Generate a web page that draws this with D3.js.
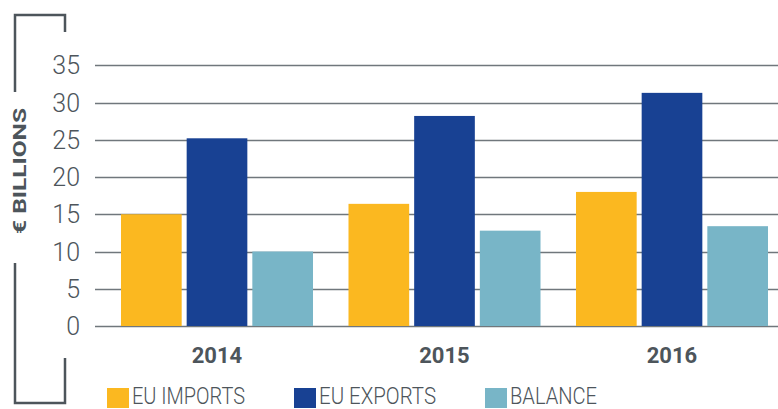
<!DOCTYPE html>
<html>
<head>
<meta charset="utf-8">
<script src="https://cdn.jsdelivr.net/npm/d3@7"></script>
<style>
  body { margin: 0; background: #fff; }
  svg { display: block; }
</style>
</head>
<body>
<svg width="778" height="409"></svg>
<script>
const years = ['2014', '2015', '2016'];
const series = ['EU IMPORTS', 'EU EXPORTS', 'BALANCE'];
const imports = [15.0, 16.4, 18.0];
const exports = [25.2, 28.2, 31.3];
const balance = [10.0, 12.8, 13.4];
const yTicks = [0, 5, 10, 15, 20, 25, 30, 35];
const colors = ['#fbb820', '#184193', '#78b5c7'];

const values = [imports, exports, balance];
const data = years.map((y, i) => ({ year: y, vals: series.map((s, k) => ({ key: s, value: values[k][i] })) }));

const svg = d3.select('svg');
const font = 'Roboto, sans-serif';
const txtColor = '#4d555b';

// ---- Escalas
const y = d3.scaleLinear().domain([0, 35]).range([326, 65.3]);
const x0 = d3.scaleBand().domain(years).range([121, 768]).paddingInner(0.156).paddingOuter(0);
const x1 = d3.scaleBand().domain(series).range([0, x0.bandwidth()]).paddingInner(0.076).paddingOuter(0);

// ---- Grade
const grid = svg.append('g');
grid.selectAll('line')
  .data(yTicks)
  .enter()
  .append('line')
  .attr('x1', 95)
  .attr('x2', 778)
  .attr('y1', d => Math.round(y(d)) + 0.5)
  .attr('y2', d => Math.round(y(d)) + 0.5)
  .attr('stroke', '#70777c')
  .attr('stroke-width', 1.3);

grid.selectAll('text')
  .data(yTicks)
  .enter()
  .append('text')
  .attr('x', 80)
  .attr('y', d => y(d) + 9)
  .attr('text-anchor', 'end')
  .style('font-family', font)
  .style('font-size', '25px')
  .style('font-weight', 300)
  .style('fill', txtColor)
  .text(d => d);

// ---- Barras
const groups = svg.append('g').selectAll('g')
  .data(data)
  .enter()
  .append('g')
  .attr('transform', d => `translate(${x0(d.year)},0)`);

groups.selectAll('rect')
  .data(d => d.vals)
  .enter()
  .append('rect')
  .attr('x', d => x1(d.key))
  .attr('width', x1.bandwidth())
  .attr('y', d => y(d.value))
  .attr('height', d => y(0) - y(d.value))
  .attr('fill', (d, i) => colors[i]);

// ---- Rotulos dos anos
svg.append('g').selectAll('text')
  .data(years)
  .enter()
  .append('text')
  .attr('x', d => x0(d) + x0.bandwidth() / 2)
  .attr('y', 363)
  .attr('text-anchor', 'middle')
  .style('font-family', font)
  .style('font-size', '22px')
  .style('font-weight', 'bold')
  .style('fill', txtColor)
  .text(d => d);

// ---- Colchete e rotulo do eixo
const bracket = svg.append('g')
  .attr('fill', 'none')
  .attr('stroke', '#4d555b')
  .attr('stroke-width', 2.5);
bracket.append('path').attr('d', 'M15,92 V15 H65 V32');
bracket.append('path').attr('d', 'M15,263 V403 H65 V358');

svg.append('text')
  .attr('transform', 'translate(26,171) rotate(-90)')
  .attr('text-anchor', 'middle')
  .attr('textLength', 126)
  .attr('lengthAdjust', 'spacingAndGlyphs')
  .style('font-family', font)
  .style('font-size', '18px')
  .style('font-weight', 'bold')
  .style('fill', txtColor)
  .text('€ BILLIONS');

// ---- Legenda
const legendX = [107, 294, 485];
const legendW = [113, 117, 87];
const legend = svg.append('g').selectAll('g')
  .data(series)
  .enter()
  .append('g')
  .attr('transform', (d, i) => `translate(${legendX[i]},388)`);

legend.append('rect')
  .attr('width', 22)
  .attr('height', 20)
  .attr('fill', (d, i) => colors[i]);

legend.append('text')
  .attr('x', 25)
  .attr('y', 16)
  .attr('textLength', (d, i) => legendW[i])
  .attr('lengthAdjust', 'spacingAndGlyphs')
  .style('font-family', font)
  .style('font-size', '23px')
  .style('font-weight', 300)
  .style('fill', txtColor)
  .text(d => d);
</script>
</body>
</html>
